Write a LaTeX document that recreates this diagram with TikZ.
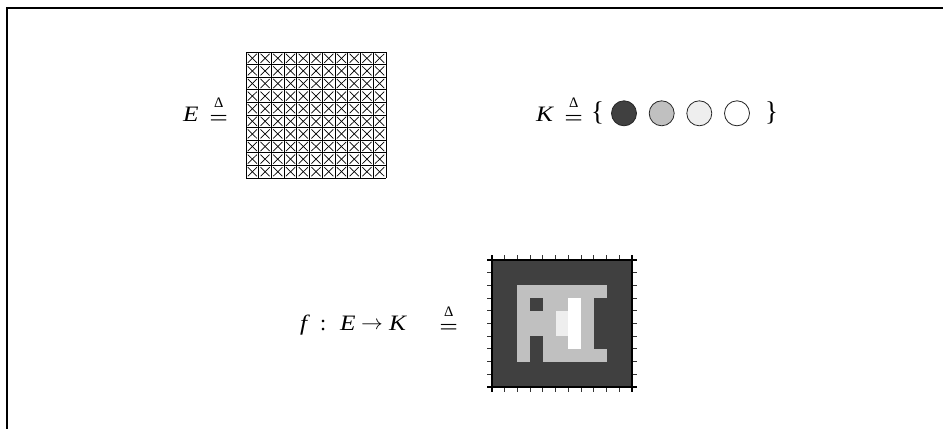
\documentclass[tikz,border=0pt]{standalone}
\usepackage{fontspec}
\setmainfont{Liberation Serif}
\usepackage{graphicx}
\definecolor{pxD}{HTML}{404040}
\definecolor{pxL}{HTML}{C0C0C0}
\definecolor{pxE}{HTML}{EEEEEE}
\newcommand\wide[1]{\scalebox{1.15}[1]{#1}}
\newcommand\deq{\vbox{\offinterlineskip\hbox to 17pt{\hss\fontsize{14.5}{14.5}\selectfont Δ\hss}\kern7.5pt\hbox to 17pt{\hss\raisebox{-3.5pt}{\scalebox{1.5}[1]{=}}\hss}}}
\tikzset{
  txt/.style={inner sep=0pt, anchor=base west, font=\fontsize{22}{26}\selectfont},
  brace/.style={inner sep=0pt, anchor=base west, font=\fontsize{27}{30}\selectfont},
  frameline/.style={line width=2pt, black},
  gridline/.style={line width=1pt, black},
  crossline/.style={line width=0.7pt, black},
  dot/.style={circle, draw=black!85, line width=0.8pt, minimum size=25pt, inner sep=0pt},
  border/.style={line width=1.3pt, black},
  tick/.style={line width=0.9pt, black!80}
}
\begin{document}
\begin{tikzpicture}[x=1pt,y=-1pt]
\useasboundingbox (0,0) rectangle (943,429);
% frame
\draw[frameline] (943,8) -- (6.5,8) -- (6.5,429);

% E grid
\begin{scope}[shift={(246pt,-52pt)}, x=12.73pt, y=-12.6pt]
  \foreach \i in {0,...,10}{
    \foreach \j in {0,...,9}{
      \draw[crossline] (\i+.14,\j+.14) -- (\i+.86,\j+.86);
      \draw[crossline] (\i+.14,\j+.86) -- (\i+.86,\j+.14);
    }
  }
  \foreach \i in {0,...,11}{ \draw[gridline] (\i,0) -- (\i,10); }
  \foreach \j in {0,...,10}{ \draw[gridline] (0,\j) -- (11,\j); }
\end{scope}

% text row 1
\node[txt] (E1) at (183,121.7) {\wide{\textit{E}}};
\node[txt] (d1) at (210,121.7) {\deq};
\node[txt] (K1) at (536,121.7) {\wide{\textit{K}}};
\node[txt] (d2) at (565,121.7) {\deq};
\node[brace] (lb) at (591,120) {\{};
\node[brace] (rb) at (765,120) {\}};
\node[dot, fill=pxD] (c1) at (624,113.3) {};
\node[dot, fill=pxL] (c2) at (661.7,113.3) {};
\node[dot, fill=pxE] (c3) at (699.3,113.3) {};
\node[dot, fill=white] (c4) at (737,113.3) {};

% text row 2
\node[txt] (f) at (300,330.7) {\wide{\textit{f}}};
\node[txt] (colon) at (320,330.7) {:};
\node[txt] (E2) at (340,330.7) {\wide{\textit{E}}};
\node[txt] (arr) at (361,330.7) {\raisebox{1.5pt}{\scalebox{1.05}[1]{$\rightarrow$}}};
\node[txt] (K2) at (389,330.7) {\wide{\textit{K}}};
\node[txt] (d3) at (440,330.7) {\deq};

% image f
\begin{scope}[shift={(492pt,-260pt)}, x=12.727pt, y=-12.7pt]
  \fill[pxD] (0,0) rectangle (11,10);
  \fill[pxL] (2,2) rectangle (9,8);
  \fill[pxD] (3,3) rectangle (4,4);
  \fill[pxD] (3,6) rectangle (4,8);
  \fill[pxD] (8,3) rectangle (9,7);
  \fill[white] (6,3) rectangle (7,7);
  \fill[pxE] (5,4) rectangle (6,6);
  \foreach \i in {0,...,11}{
    \draw[tick] (\i,0) -- ++(0pt,5pt);
    \draw[tick] (\i,10) -- ++(0pt,-5pt);
  }
  \foreach \j in {0,...,10}{
    \draw[tick] (0,\j) -- ++(-5pt,0pt);
    \draw[tick] (11,\j) -- ++(5pt,0pt);
  }
  \draw[border] (0,0) ++(-5pt,0pt) -- ++(150pt,0pt);
  \draw[border] (0,10) ++(-5pt,0pt) -- ++(150pt,0pt);
  \draw[border] (0,0) ++(0pt,5pt) -- ++(0pt,-137pt);
  \draw[border] (11,0) ++(0pt,5pt) -- ++(0pt,-137pt);
\end{scope}
\end{tikzpicture}
\end{document}
